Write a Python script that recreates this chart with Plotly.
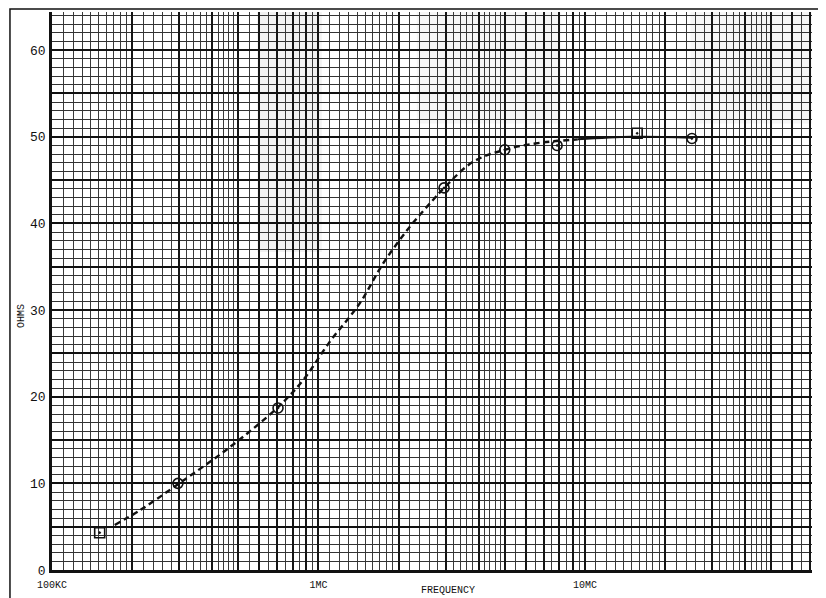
import plotly.graph_objects as go

# ---- data (frequency in cycles/s, impedance in ohms) ----
meas_freq = [1.51e5, 2.97e5, 7.05e5, 2.96e6, 5.0e6, 7.86e6, 1.57e7, 2.52e7]
meas_ohms = [4.3, 10.0, 18.7, 44.1, 48.5, 49.0, 50.4, 49.8]
meas_symbol = ["square-open-dot", "circle-open-dot", "circle-open-dot", "circle-open-dot",
               "circle-open-dot", "circle-open-dot", "square-open-dot", "circle-open-dot"]

curve_freq = [1.72e5, 2.14e5, 2.97e5, 4.66e5, 7.05e5, 8.75e5, 1.10e6, 1.43e6,
              1.75e6, 2.20e6, 2.69e6, 2.96e6, 3.80e6, 5.0e6, 6.78e6, 9.4e6]
curve_ohms = [5.2, 6.9, 9.9, 14.2, 18.8, 21.9, 26.3, 30.8,
              35.4, 39.6, 42.7, 44.1, 47.1, 48.5, 49.3, 49.7]

flat_freq = [9.4e6, 1.5e7, 2.52e7]
flat_ohms = [49.7, 50.0, 49.9]

decades = [1e5, 1e6, 1e7]
decade_labels = ["100KC", "1MC", "10MC"]
major_mult = [1, 2, 3, 4, 5, 6, 7, 8, 9]
minor_mult = ([1.1, 1.2, 1.3, 1.4, 1.5, 1.6, 1.7, 1.8, 1.9] +
              [2.2, 2.4, 2.6, 2.8, 3.2, 3.4, 3.6, 3.8, 4.2, 4.4, 4.6, 4.8] +
              [5.5, 6.5, 7.5, 8.5, 9.5])

y_ticks = [0, 5, 10, 15, 20, 25, 30, 35, 40, 45, 50, 55, 60]
y_labels = ["0", "", "10", "", "20", "", "30", "", "40", "", "50", "", "60"]

# ---- grid positions from the paper rulings ----
x_major = [d * m for d in decades for m in major_mult]
x_major_text = []
for v in x_major:
    lab = ""
    for d, t in zip(decades, decade_labels):
        if abs(v - d) < 1e-6 * d:
            lab = t
    x_major_text.append(lab)
x_minor = [d * m for d in decades for m in minor_mult]

FONT = "Liberation Mono"

fig = go.Figure()
fig.add_trace(go.Scatter(x=curve_freq, y=curve_ohms, mode="lines",
                         line=dict(color="#111", width=2.4, dash="6px,4px", shape="spline"),
                         hoverinfo="skip", showlegend=False))
fig.add_trace(go.Scatter(x=flat_freq, y=flat_ohms, mode="lines",
                         line=dict(color="#111", width=2.0, shape="spline"),
                         hoverinfo="skip", showlegend=False))
fig.add_trace(go.Scatter(x=meas_freq, y=meas_ohms, mode="markers",
                         marker=dict(symbol=meas_symbol, size=10, color="#111",
                                     line=dict(color="#111", width=1.6)),
                         showlegend=False))

# faint scan shading of the paper
shade = [
    (0.27, 0.355, 0.57, 1.0, 0.10),
    (0.48, 0.67, 0.80, 1.0, 0.07),
    (0.84, 1.0, 0.80, 1.0, 0.07),
]
shapes = [dict(type="rect", xref="paper", yref="paper", x0=a, x1=b, y0=c, y1=d,
               fillcolor="#808080", opacity=o, line=dict(width=0), layer="below")
          for a, b, c, d, o in shade]
shapes.append(dict(type="rect", xref="paper", yref="paper",
                   x0=-0.0553, x1=1.0132, y0=-0.08, y1=1.0054,
                   line=dict(color="#111", width=1.5), layer="above"))

# page is shown with an 8px body margin, so the figure is 8px smaller
fig.update_layout(
    width=818, height=590,
    margin=dict(l=44, r=14, t=4, b=28, autoexpand=False),
    paper_bgcolor="white", plot_bgcolor="white",
    font=dict(family=FONT, color="#111"),
    xaxis=dict(type="log", range=[5, 7.852], automargin=False,
               tickmode="array", tickvals=x_major, ticktext=x_major_text,
               showgrid=True, gridcolor="#151515", gridwidth=1.6,
               minor=dict(tickmode="array", tickvals=x_minor, showgrid=True,
                          gridcolor="#3a3a3a", gridwidth=1),
               showline=True, linecolor="#111", linewidth=2.5, mirror=False,
               ticks="", ticklabelstandoff=3,
               tickfont=dict(family=FONT, size=10, color="#111"),
               zeroline=False),
    yaxis=dict(range=[0, 64.4], automargin=False,
               tickmode="array", tickvals=y_ticks, ticktext=y_labels,
               showgrid=True, gridcolor="#111", gridwidth=2,
               minor=dict(dtick=1, showgrid=True, gridcolor="#333", gridwidth=1.2),
               showline=True, linecolor="#111", linewidth=2.5,
               ticks="", ticklabelstandoff=1,
               tickfont=dict(family=FONT, size=13, color="#111"),
               zeroline=False),
    shapes=shapes,
    annotations=[
        dict(text="FREQUENCY", xref="paper", yref="paper", x=0.521, y=-0.036,
             showarrow=False, font=dict(family=FONT, size=10, color="#111"),
             xanchor="center", yanchor="middle"),
        dict(text="OHMS", xref="paper", yref="paper", x=-0.041, y=0.455,
             textangle=-90, showarrow=False,
             font=dict(family=FONT, size=10, color="#111"),
             xanchor="center", yanchor="middle"),
    ],
)

fig.write_html("out.html")
